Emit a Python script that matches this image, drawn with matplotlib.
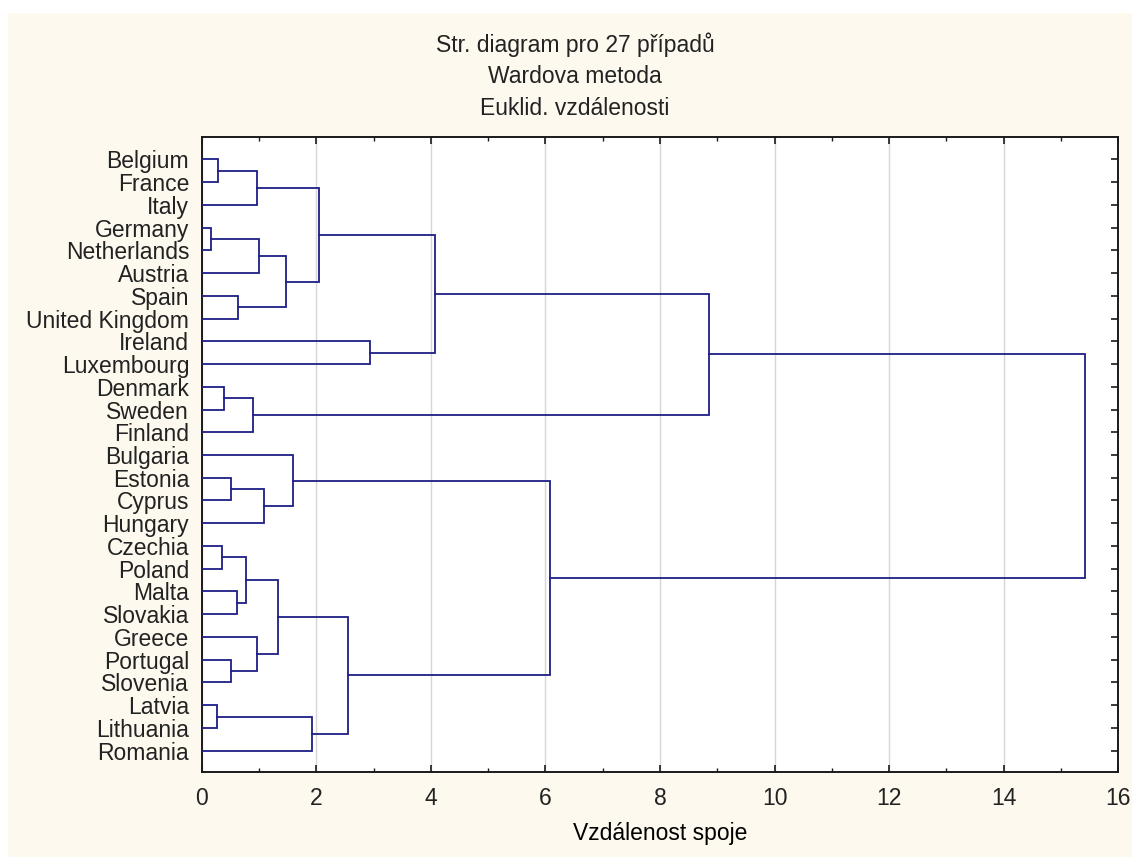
import numpy as np
import matplotlib
matplotlib.use('Agg')
import matplotlib.pyplot as plt
from matplotlib.patches import Rectangle

plt.rcParams['font.family'] = ['Liberation Sans', 'DejaVu Sans']
plt.rcParams['font.size'] = 16.5
plt.rcParams['text.color'] = '#222222'
plt.rcParams['xtick.color'] = '#1a1a1a'
plt.rcParams['ytick.color'] = '#1a1a1a'
plt.rcParams['xtick.labelcolor'] = '#222222'
plt.rcParams['ytick.labelcolor'] = '#222222'

# listy (poradi odshora dolu)
leaves = ['Belgium', 'France', 'Italy', 'Germany', 'Netherlands', 'Austria',
          'Spain', 'United Kingdom', 'Ireland', 'Luxembourg', 'Denmark',
          'Sweden', 'Finland', 'Bulgaria', 'Estonia', 'Cyprus', 'Hungary',
          'Czechia', 'Poland', 'Malta', 'Slovakia', 'Greece', 'Portugal',
          'Slovenia', 'Latvia', 'Lithuania', 'Romania']

# spoje: (a, b) -> indexy listu (<27) nebo predchozich shluku (>=27)
merge_a = [0, 27, 3, 29, 6, 30, 28, 8, 33, 10, 36, 35,
           14, 39, 13, 17, 19, 42, 22, 21, 44, 24, 48, 47, 41, 38]
merge_b = [1, 2, 4, 5, 7, 31, 32, 9, 34, 11, 12, 37,
           15, 16, 40, 18, 20, 43, 23, 45, 46, 25, 26, 49, 50, 51]
merge_h = [0.29, 0.97, 0.17, 1.00, 0.64, 1.47, 2.05, 2.94, 4.07, 0.39, 0.90, 8.86,
           0.52, 1.09, 1.60, 0.355, 0.61, 0.77, 0.52, 0.97, 1.34, 0.27, 1.92, 2.55,
           6.08, 15.41]

title_lines = ['Str. diagram pro 27 případů', 'Wardova metoda', 'Euklid. vzdálenosti']
xlabel = 'Vzdálenost spoje'

W, H = 1132, 857
fig = plt.figure(figsize=(W / 100, H / 100), dpi=100)
fig.patch.set_facecolor('white')
# kremove pozadi jako ve Statistice
fig.add_artist(Rectangle((8 / W, 0), 1, 1 - 13 / H, transform=fig.transFigure,
                         facecolor='#fdf9ee', edgecolor='none', zorder=-10))

ax = fig.add_axes([201.7 / W, 1 - 772 / H, (1118.3 - 201.7) / W, (772 - 137.3) / H])
ax.set_facecolor('white')

# pozice uzlu: list -> (vyska 0, y = index), shluk -> stred potomku
pos_y = list(range(len(leaves)))
pos_h = [0.0] * len(leaves)
line_col = '#1e1e86'
for a, b, h in zip(merge_a, merge_b, merge_h):
    ya, yb = pos_y[a], pos_y[b]
    ax.plot([pos_h[a], h, h, pos_h[b]], [ya, ya, yb, yb],
            color=line_col, lw=1.3, solid_joinstyle='miter', zorder=3)
    pos_y.append((ya + yb) / 2)
    pos_h.append(h)

ax.set_xlim(0, 16)
ax.set_ylim(26.94, -0.97)

ax.set_xticks(np.arange(0, 17, 2))
ax.set_xticks(np.arange(1, 16, 2), minor=True)
ax.tick_params(axis='x', which='both', direction='in', top=True, bottom=True, pad=10.5)
ax.tick_params(axis='x', which='major', length=5, width=1.2)
ax.tick_params(axis='x', which='minor', length=3, width=1)

ax.set_yticks(range(len(leaves)))
ax.set_yticklabels(leaves)
ax.tick_params(axis='y', which='major', left=False, right=True, direction='in',
               length=5, width=1.2, pad=9)

ax.grid(axis='x', which='major', color='#d6d6d6', lw=1)
ax.set_axisbelow(True)
for s in ax.spines.values():
    s.set_linewidth(1.4)
    s.set_color('#1a1a1a')

ax.set_xlabel(xlabel, labelpad=9)

for i, t in enumerate(title_lines):
    fig.text(575 / W, 1 - (51.7 + 31.6 * i) / H, t, ha='center', va='baseline')

fig.savefig('out.png', dpi=100, facecolor=fig.get_facecolor())
